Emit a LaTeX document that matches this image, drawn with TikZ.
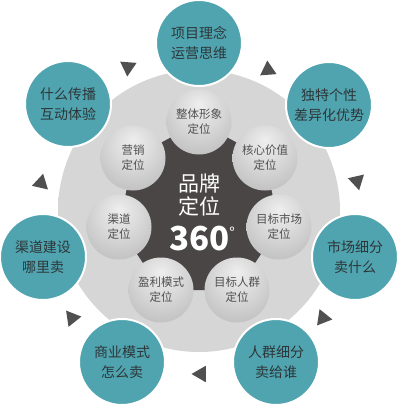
\documentclass[tikz,border=0pt]{standalone}
\usepackage{fontspec}
\setmainfont{Noto Sans CJK SC}
\usetikzlibrary{shapes.geometric}
\definecolor{teal1}{HTML}{4FA4B0}
\definecolor{darkhex}{HTML}{4A4646}
\definecolor{tricol}{HTML}{505050}
\definecolor{tealtxt}{HTML}{2E3638}
\definecolor{sphtxt}{HTML}{505050}
\definecolor{sg0}{HTML}{EEEEEE}
\definecolor{sgA}{HTML}{DADADA}
\definecolor{sgB}{HTML}{B4B4B4}
\definecolor{sgC}{HTML}{8E8E8E}
\definecolor{dkA}{HTML}{D6D6D6}
\definecolor{dkB}{HTML}{E4E4E4}
\pgfdeclareradialshading{sph}{\pgfpoint{0bp}{14bp}}{color(0bp)=(sg0); color(16bp)=(sgA); color(42bp)=(sgB); color(66bp)=(sgC)}
\pgfdeclareradialshading{disk}{\pgfpoint{0bp}{0bp}}{color(0bp)=(dkA); color(32bp)=(dkA); color(50bp)=(dkB)}
\begin{document}
\begin{tikzpicture}[x=1pt,y=-1pt,
  tealnode/.style={circle, fill=teal1, draw=white, line width=2pt, minimum size=86pt, inner sep=0pt, align=center, text=tealtxt, font=\fontsize{14}{20}\selectfont},
  sphnode/.style={circle, shading=sph, minimum size=65pt, inner sep=0pt, align=center, text=sphtxt, font=\fontsize{11.5}{15}\selectfont},
  tri/.style={regular polygon, regular polygon sides=3, fill=tricol, minimum size=19pt, inner sep=0pt, outer sep=0pt}
]
\useasboundingbox (0,0) rectangle (400,407);
\fill[white] (0,0) rectangle (400,407);
% big disk
\node[circle, shading=disk, minimum size=282pt, inner sep=0pt] (disk) at (199,211) {};
% sphere positions
\coordinate (p1) at (199,122);
\coordinate (p2) at (265,158);
\coordinate (p3) at (279,227);
\coordinate (p4) at (237,290);
\coordinate (p5) at (161,290);
\coordinate (p6) at (119,227);
\coordinate (p7) at (133,158);
\fill[darkhex] (p1) -- (p2) -- (p3) -- (p4) -- (p5) -- (p6) -- (p7) -- cycle;
% spheres
\node[sphnode] (s1) at (p1) {整体形象\\定位};
\node[sphnode] (s2) at (p2) {核心价值\\定位};
\node[sphnode] (s3) at (p3) {目标市场\\定位};
\node[sphnode] (s4) at (p4) {目标人群\\定位};
\node[sphnode] (s5) at (p5) {盈利模式\\定位};
\node[sphnode] (s6) at (p6) {渠道\\定位};
\node[sphnode] (s7) at (p7) {营销\\定位};
% center text
\node[text=white, align=center, font=\fontsize{21}{23}\selectfont] (c1) at (199,195) {品牌\\定位};
\node[text=white, inner sep=0pt] (c2) at (202,239) {\fontsize{33}{33}\selectfont\bfseries 360\raisebox{12pt}{\fontsize{15}{15}\selectfont\mdseries °}};
% teal circles
\node[tealnode] (o1) at (199,43) {项目理念\\运营思维};
\node[tealnode] (o2) at (329,105) {独特个性\\差异化优势};
\node[tealnode] (o3) at (355,257) {市场细分\\卖什么};
\node[tealnode] (o4) at (276,362) {人群细分\\卖给谁};
\node[tealnode] (o5) at (122,362) {商业模式\\怎么卖};
\node[tealnode] (o6) at (43,257) {渠道建设\\哪里卖};
\node[tealnode] (o7) at (68,104) {什么传播\\互动体验};
% triangles
\node[tri, shape border rotate=-64.3] (t1) at (128,67) {};
\node[tri, shape border rotate=-115.7] (t2) at (268,70) {};
\node[tri, shape border rotate=-167.1] (t3) at (357,181) {};
\node[tri, shape border rotate=-218.6] (t4) at (323,318) {};
\node[tri, shape border rotate=90] (t5) at (201,374) {};
\node[tri, shape border rotate=38.6] (t6) at (72,318) {};
\node[tri, shape border rotate=-12.9] (t7) at (41,183) {};
\end{tikzpicture}
\end{document}
